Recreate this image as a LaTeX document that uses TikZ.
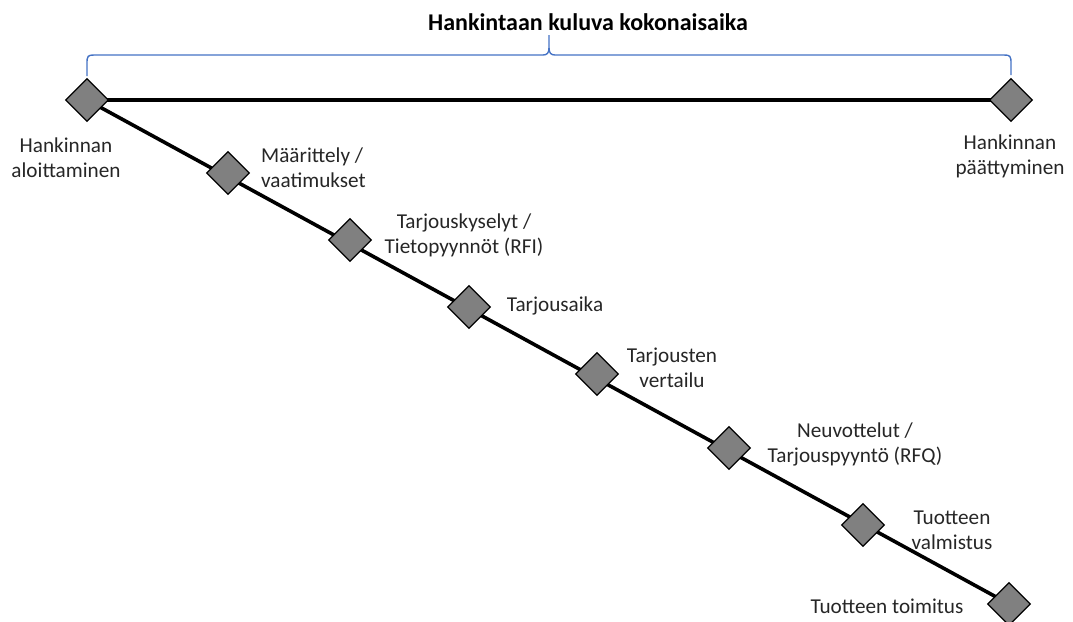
\documentclass[tikz,border=0pt]{standalone}
\usepackage{fontspec}
\setmainfont{Carlito}
\usetikzlibrary{shapes.geometric,backgrounds}
\definecolor{bracecol}{HTML}{4472C4}
\definecolor{mgray}{HTML}{808080}
\definecolor{txt}{HTML}{262626}
\begin{document}
\begin{tikzpicture}[x=1pt,y=-1pt,
  milestone/.style={diamond,draw=black,line width=1.3pt,fill=mgray,
    minimum width=43pt,minimum height=43pt,inner sep=0pt},
  lbl/.style={text=txt,font=\fontsize{21.2}{25}\selectfont,align=center,inner sep=0pt},
  ttl/.style={text=black,font=\bfseries\fontsize{24}{28}\selectfont,inner sep=0pt},
  timeline/.style={line width=3.6pt,draw=black},
  bracket/.style={draw=bracecol,line width=1.4pt}]
\useasboundingbox (0,0) rectangle (1073,621);

% milestones
\node[milestone] (start) at (87,100) {};
\node[milestone] (finish) at (1011,100) {};
\node[milestone] (m1) at (228,173) {};
\node[milestone] (m2) at (350,240) {};
\node[milestone] (m3) at (469,307) {};
\node[milestone] (m4) at (597,374) {};
\node[milestone] (m5) at (729,448) {};
\node[milestone] (m6) at (863,525) {};
\node[milestone] (m7) at (1009,604) {};

% timelines behind the milestones
\begin{pgfonlayer}{background}
  \draw[timeline] (start.center) -- (finish.center);
  \draw[timeline] (start.center) -- (m7.center);
\end{pgfonlayer}

% title and brace
\node[ttl] (title) at (588,22) {Hankintaan kuluva kokonaisaika};
\coordinate (bl) at (87,76);
\coordinate (br) at (1011,75);
\coordinate (tip) at (549,35);
\draw[bracket] (bl) -- (87,63) .. controls (87,56) and (88,55) .. (94,55)
  -- (543,55) .. controls (547,55) and (549,53) .. (549,48) -- (tip);
\draw[bracket] (549,48) .. controls (549,53) and (551,55) .. (555,55)
  -- (1004,55) .. controls (1010,55) and (1011,56) .. (1011,63) -- (br);

% labels
\node[lbl] (lstart) at (66,158) {Hankinnan\\aloittaminen};
\node[lbl] (lfinish) at (1010,156) {Hankinnan\\päättyminen};
\node[lbl,align=left,anchor=west] (l1) at (261,168) {Määrittely /\\vaatimukset};
\node[lbl] (l2) at (464,235) {Tarjouskyselyt /\\Tietopyynnöt (RFI)};
\node[lbl] (l3) at (555,306) {Tarjousaika};
\node[lbl] (l4) at (672,368) {Tarjousten\\vertailu};
\node[lbl] (l5) at (855,444) {Neuvottelut /\\Tarjouspyyntö (RFQ)};
\node[lbl] (l6) at (952,530) {Tuotteen\\valmistus};
\node[lbl] (l7) at (887,606) {Tuotteen toimitus};
\end{tikzpicture}
\end{document}
